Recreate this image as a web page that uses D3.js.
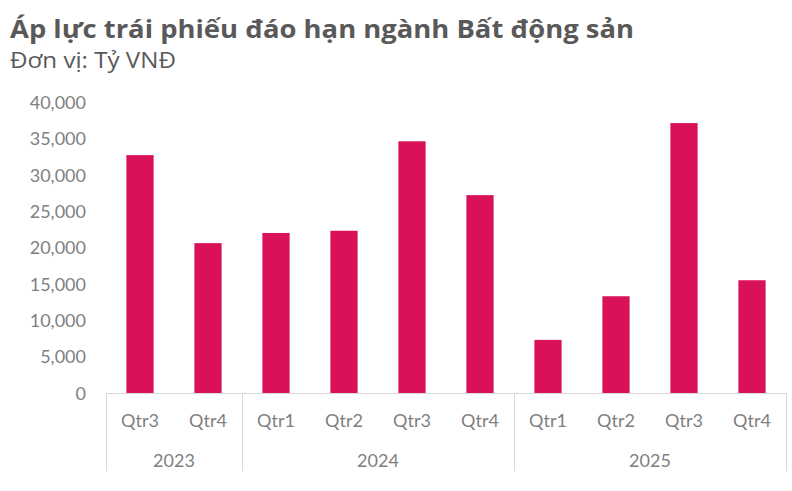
<!DOCTYPE html>
<html><head><meta charset="utf-8">
<script src="https://cdn.jsdelivr.net/npm/d3@7/dist/d3.min.js"></script>
<style>body{margin:0;background:#fff}svg{display:block}text{font-family:Lato,"Open Sans",sans-serif}</style>
</head><body><svg id="c" width="792" height="491"></svg>
<script>
const years = ["2023","2024","2025"];
const quarters = ["Qtr3","Qtr4","Qtr1","Qtr2","Qtr3","Qtr4","Qtr1","Qtr2","Qtr3","Qtr4"];
const yearOf = ["2023","2023","2024","2024","2024","2024","2025","2025","2025","2025"];
const values = [32700,20600,22000,22300,34600,27200,7300,13300,37100,15500];
const yTicks = [0,5000,10000,15000,20000,25000,30000,35000,40000];

(function(){
const svg = d3.select("#c");
const pLeft=106, pRight=786, pTop=102, pBottom=393;
const keys = values.map((v,i)=>i);
const x = d3.scaleBand().domain(keys).range([pLeft,pRight]).paddingInner(0.6).paddingOuter(0.3);
const y = d3.scaleLinear().domain([0,40000]).range([pBottom,pTop]);
const grey="#7f7f7f", line="#d9d9d9";

svg.append("text").attr("x",10).attr("y",38).attr("fill","#595959").attr("font-weight",700).attr("font-size",25)
  .style("font-family","'Open Sans',sans-serif").attr("textLength",624).attr("lengthAdjust","spacingAndGlyphs")
  .text("Áp lực trái phiếu đáo hạn ngành Bất động sản");
svg.append("text").attr("x",10).attr("y",68).attr("fill","#595959").attr("font-size",21)
  .style("font-family","'Open Sans',sans-serif").attr("textLength",166).attr("lengthAdjust","spacingAndGlyphs")
  .text("Đơn vị: Tỷ VNĐ");

const ya = svg.append("g").attr("transform",`translate(${pLeft-20},0)`)
  .call(d3.axisLeft(y).tickValues(yTicks).tickSize(0).tickPadding(0).tickFormat(d3.format(",")));
ya.select(".domain").remove();
ya.selectAll("text").attr("fill",grey).attr("font-size",18).attr("font-family","Lato,sans-serif").attr("dy","0.35em");

svg.append("g").selectAll("rect").data(values).join("rect")
  .attr("x",(d,i)=>x(i)).attr("width",x.bandwidth())
  .attr("y",d=>y(d)).attr("height",d=>pBottom-y(d)).attr("fill","#D81159");

svg.append("line").attr("x1",pLeft).attr("x2",pRight).attr("y1",pBottom+0.5).attr("y2",pBottom+0.5).attr("stroke",line);
const step = (pRight-pLeft)/values.length;
const bounds=[0];
yearOf.forEach((yv,i)=>{ if(i>0 && yv!==yearOf[i-1]) bounds.push(i); });
bounds.push(values.length);
svg.append("g").selectAll("line").data(bounds).join("line")
  .attr("x1",b=>pLeft+b*step+0.5).attr("x2",b=>pLeft+b*step+0.5).attr("y1",pBottom).attr("y2",471).attr("stroke",line);

svg.append("g").selectAll("text").data(quarters).join("text")
  .attr("x",(d,i)=>x(i)+x.bandwidth()/2).attr("y",427).attr("text-anchor","middle")
  .attr("fill",grey).attr("font-size",18).text(d=>d);

svg.append("g").selectAll("text").data(years).join("text")
  .attr("x",(d,j)=>pLeft+(bounds[j]+bounds[j+1])/2*step).attr("y",467).attr("text-anchor","middle")
  .attr("fill",grey).attr("font-size",18).text(d=>d);
})();
</script></body></html>
